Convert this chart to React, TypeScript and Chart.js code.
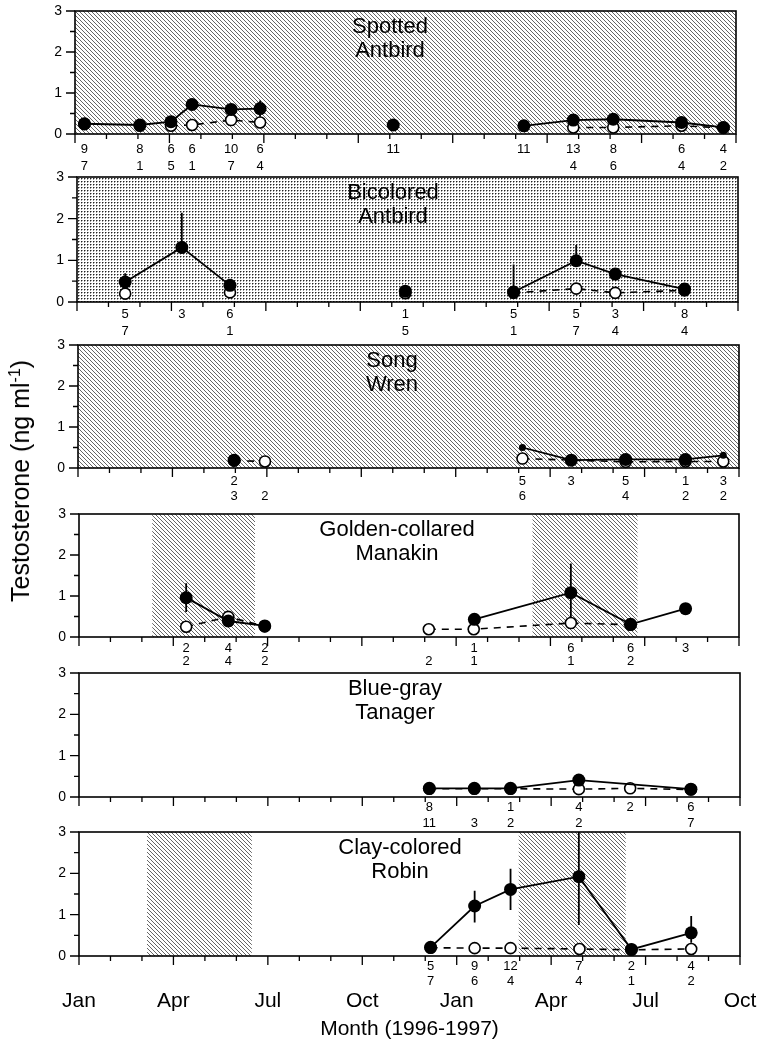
import React, { useEffect, useRef } from "react";
import { Chart, registerables } from "chart.js";

Chart.register(...registerables);

const FONT = '"Liberation Sans", Arial, Helvetica, sans-serif';
Chart.defaults.font.family = FONT;
Chart.defaults.color = "#000";

// x values: months since 1 Jan 1996 (0 = Jan 1996, 21 = Oct 1997)
const X_MIN = 0;
const X_MAX = 21;
const Y_MAX = 3;
const MONTH_TICK_LABELS = ["Jan", "Apr", "Jul", "Oct", "Jan", "Apr", "Jul", "Oct"];
const X_TITLE = "Month (1996-1997)";

// ---------- Spotted Antbird ----------
const spottedTitle = ["Spotted", "Antbird"];
const spottedFilledMonth = [0.3, 2.06, 3.05, 3.72, 4.96, 5.88, 10.11, 14.26, 15.83, 17.1, 19.27, 20.6];
const spottedFilledT = [0.25, 0.22, 0.3, 0.72, 0.6, 0.62, 0.22, 0.2, 0.34, 0.36, 0.28, 0.16];
const spottedFilledUp = [0, 0, 0, 0.1, 0.05, 0.2, 0, 0, 0.05, 0.05, 0.05, 0];
const spottedFilledDown = [0, 0, 0, 0.1, 0.05, 0.2, 0, 0, 0.05, 0.05, 0.05, 0];
const spottedFilledRun = [0, 0, 0, 0, 0, 0, 1, 2, 2, 2, 2, 2];
const spottedOpenMonth = [0.3, 2.06, 3.05, 3.72, 4.96, 5.88, 15.83, 17.1, 19.27, 20.6];
const spottedOpenT = [0.24, 0.2, 0.2, 0.22, 0.34, 0.28, 0.16, 0.16, 0.2, 0.15];
const spottedOpenRun = [0, 1, 2, 2, 2, 2, 3, 3, 3, 3];
const spottedNMonth = [0.3, 2.06, 3.05, 3.72, 4.96, 5.88, 10.11, 14.26, 15.83, 17.1, 19.27, 20.6];
const spottedNTop = ["9", "8", "6", "6", "10", "6", "11", "11", "13", "8", "6", "4"];
const spottedNBottom = ["7", "1", "5", "1", "7", "4", "", "", "4", "6", "4", "2"];
const spottedShadeFrom = [0];
const spottedShadeTo = [21];

// ---------- Bicolored Antbird ----------
const bicoloredTitle = ["Bicolored", "Antbird"];
const bicoloredFilledMonth = [1.53, 3.33, 4.86, 10.43, 13.87, 15.86, 17.1, 19.3];
const bicoloredFilledT = [0.48, 1.31, 0.4, 0.26, 0.24, 0.99, 0.67, 0.31];
const bicoloredFilledUp = [0.21, 0.83, 0, 0, 0.66, 0.38, 0, 0];
const bicoloredFilledDown = [0, 0, 0, 0, 0, 0, 0, 0];
const bicoloredFilledRun = [0, 0, 0, 1, 2, 2, 2, 2];
const bicoloredOpenMonth = [1.53, 4.86, 10.43, 13.87, 15.86, 17.1, 19.3];
const bicoloredOpenT = [0.2, 0.23, 0.21, 0.22, 0.32, 0.22, 0.28];
const bicoloredOpenRun = [0, 1, 2, 3, 3, 3, 3];
const bicoloredNMonth = [1.53, 3.33, 4.86, 10.43, 13.87, 15.86, 17.1, 19.3];
const bicoloredNTop = ["5", "3", "6", "1", "5", "5", "3", "8"];
const bicoloredNBottom = ["7", "", "1", "5", "1", "7", "4", "4"];
const bicoloredShadeFrom = [0];
const bicoloredShadeTo = [21];

// ---------- Song Wren ----------
const wrenTitle = ["Song", "Wren"];
const wrenFilledMonth = [4.96, 14.12, 15.67, 17.4, 19.3, 20.5];
const wrenFilledT = [0.19, 0.5, 0.19, 0.21, 0.21, 0.31];
const wrenFilledUp = [0, 0, 0, 0, 0, 0];
const wrenFilledDown = [0, 0, 0, 0, 0, 0];
const wrenFilledRun = [0, 1, 1, 1, 1, 1];
const wrenOpenMonth = [4.96, 5.94, 14.12, 17.4, 19.3, 20.5];
const wrenOpenT = [0.18, 0.16, 0.23, 0.15, 0.16, 0.16];
const wrenOpenRun = [0, 0, 1, 1, 1, 1];
const wrenNMonth = [4.96, 5.94, 14.12, 15.67, 17.4, 19.3, 20.5];
const wrenNTop = ["2", "", "5", "3", "5", "1", "3"];
const wrenNBottom = ["3", "2", "6", "", "4", "2", "2"];
const wrenShadeFrom = [0];
const wrenShadeTo = [21];

// ---------- Golden-collared Manakin ----------
const manakinTitle = ["Golden-collared", "Manakin"];
const manakinFilledMonth = [3.41, 4.75, 5.91, 12.58, 15.65, 17.55, 19.3];
const manakinFilledT = [0.96, 0.39, 0.27, 0.43, 1.08, 0.31, 0.69];
const manakinFilledUp = [0.35, 0, 0, 0, 0.71, 0.12, 0.12];
const manakinFilledDown = [0.35, 0, 0, 0, 0.71, 0.12, 0.12];
const manakinFilledRun = [0, 0, 0, 1, 1, 1, 1];
const manakinOpenMonth = [3.41, 4.75, 5.91, 11.13, 12.56, 15.65, 17.55];
const manakinOpenT = [0.25, 0.49, 0.26, 0.19, 0.19, 0.34, 0.3];
const manakinOpenRun = [0, 0, 0, 1, 1, 1, 1];
const manakinNMonth = [3.41, 4.75, 5.91, 11.13, 12.57, 15.65, 17.55, 19.3];
const manakinNTop = ["2", "4", "2", "", "1", "6", "6", "3"];
const manakinNBottom = ["2", "4", "2", "2", "1", "1", "2", ""];
const manakinShadeFrom = [2.33, 14.43];
const manakinShadeTo = [5.6, 17.77];

// ---------- Blue-gray Tanager ----------
const tanagerTitle = ["Blue-gray", "Tanager"];
const tanagerFilledMonth = [11.13, 12.56, 13.71, 15.88, 19.44];
const tanagerFilledT = [0.21, 0.21, 0.21, 0.41, 0.19];
const tanagerFilledUp = [0, 0, 0, 0, 0];
const tanagerFilledDown = [0, 0, 0, 0, 0];
const tanagerFilledRun = [0, 0, 0, 0, 0];
const tanagerOpenMonth = [11.13, 12.56, 13.71, 15.88, 17.51, 19.44];
const tanagerOpenT = [0.2, 0.2, 0.2, 0.19, 0.21, 0.18];
const tanagerOpenRun = [0, 0, 0, 0, 0, 0];
const tanagerNMonth = [11.13, 12.56, 13.71, 15.88, 17.51, 19.44];
const tanagerNTop = ["8", "", "1", "4", "2", "6"];
const tanagerNBottom = ["11", "3", "2", "2", "", "7"];
const tanagerShadeFrom: number[] = [];
const tanagerShadeTo: number[] = [];

// ---------- Clay-colored Robin ----------
const robinTitle = ["Clay-colored", "Robin"];
const robinFilledMonth = [11.17, 12.57, 13.71, 15.88, 17.55, 19.45];
const robinFilledT = [0.21, 1.21, 1.61, 1.92, 0.16, 0.56];
const robinFilledUp = [0, 0.37, 0.5, 1.17, 0, 0.41];
const robinFilledDown = [0, 0.4, 0.5, 1.17, 0, 0.24];
const robinFilledRun = [0, 0, 0, 0, 0, 0];
const robinOpenMonth = [11.17, 12.57, 13.71, 15.9, 17.55, 19.45];
const robinOpenT = [0.2, 0.19, 0.19, 0.17, 0.15, 0.17];
const robinOpenRun = [0, 0, 0, 0, 0, 0];
const robinNMonth = [11.17, 12.57, 13.71, 15.88, 17.55, 19.45];
const robinNTop = ["5", "9", "12", "7", "2", "4"];
const robinNBottom = ["7", "6", "4", "4", "1", "2"];
const robinShadeFrom = [2.16, 13.97];
const robinShadeTo = [5.49, 17.37];

const PANELS = [
  { title: spottedTitle, fm: spottedFilledMonth, ft: spottedFilledT, fu: spottedFilledUp, fd: spottedFilledDown, fr: spottedFilledRun, om: spottedOpenMonth, ot: spottedOpenT, or: spottedOpenRun, nm: spottedNMonth, n1: spottedNTop, n2: spottedNBottom, sf: spottedShadeFrom, st: spottedShadeTo },
  { title: bicoloredTitle, fm: bicoloredFilledMonth, ft: bicoloredFilledT, fu: bicoloredFilledUp, fd: bicoloredFilledDown, fr: bicoloredFilledRun, om: bicoloredOpenMonth, ot: bicoloredOpenT, or: bicoloredOpenRun, nm: bicoloredNMonth, n1: bicoloredNTop, n2: bicoloredNBottom, sf: bicoloredShadeFrom, st: bicoloredShadeTo },
  { title: wrenTitle, fm: wrenFilledMonth, ft: wrenFilledT, fu: wrenFilledUp, fd: wrenFilledDown, fr: wrenFilledRun, om: wrenOpenMonth, ot: wrenOpenT, or: wrenOpenRun, nm: wrenNMonth, n1: wrenNTop, n2: wrenNBottom, sf: wrenShadeFrom, st: wrenShadeTo },
  { title: manakinTitle, fm: manakinFilledMonth, ft: manakinFilledT, fu: manakinFilledUp, fd: manakinFilledDown, fr: manakinFilledRun, om: manakinOpenMonth, ot: manakinOpenT, or: manakinOpenRun, nm: manakinNMonth, n1: manakinNTop, n2: manakinNBottom, sf: manakinShadeFrom, st: manakinShadeTo },
  { title: tanagerTitle, fm: tanagerFilledMonth, ft: tanagerFilledT, fu: tanagerFilledUp, fd: tanagerFilledDown, fr: tanagerFilledRun, om: tanagerOpenMonth, ot: tanagerOpenT, or: tanagerOpenRun, nm: tanagerNMonth, n1: tanagerNTop, n2: tanagerNBottom, sf: tanagerShadeFrom, st: tanagerShadeTo },
  { title: robinTitle, fm: robinFilledMonth, ft: robinFilledT, fu: robinFilledUp, fd: robinFilledDown, fr: robinFilledRun, om: robinOpenMonth, ot: robinOpenT, or: robinOpenRun, nm: robinNMonth, n1: robinNTop, n2: robinNBottom, sf: robinShadeFrom, st: robinShadeTo },
];

// ---------- layout / style (not data) ----------
const PAGE_W = 760;
const PAGE_H = 1046;
const PAD_TOP = 11;
const BELOW = 42;
const PANEL_TOP = [11, 177, 345, 514, 673, 832];
const PANEL_BOTTOM = [134, 302, 468, 637, 797, 956];
const PANEL_LEFT = [75, 77, 78, 79, 79, 79];
const PANEL_RIGHT = [736, 738, 739, 739, 740, 740];
const PANEL_PATTERN = ["diag", "dots", "diag", "diag", "diag", "diag"];
const TITLE_X = [390, 393, 392, 397, 395, 400];
const N_OFFSETS = [[15.5, 32], [12, 29.5], [13.5, 28], [11, 24.5], [10, 26], [10.7, 25.7]];
const SMALL_POINTS = [[], [], [1, 5], [], [], []];

function makePattern(ctx: CanvasRenderingContext2D, kind: string) {
  const t = document.createElement("canvas");
  const c = t.getContext("2d") as CanvasRenderingContext2D;
  if (kind === "dots") {
    t.width = 3;
    t.height = 3;
    c.fillStyle = "#222";
    c.fillRect(0, 0, 1, 1);
    c.fillStyle = "#999";
    c.fillRect(1, 0, 1, 1);
    c.fillRect(0, 1, 1, 1);
  } else {
    t.width = 4;
    t.height = 4;
    c.fillStyle = "#666";
    for (let i = 0; i < 4; i++) c.fillRect(i, i, 1, 1);
  }
  return ctx.createPattern(t, "repeat") as CanvasPattern;
}

function PanelChart({ idx }: { idx: number }) {
  const ref = useRef<HTMLCanvasElement | null>(null);
  const last = idx === PANELS.length - 1;
  const top = PANEL_TOP[idx] - PAD_TOP;
  const areaH = PANEL_BOTTOM[idx] - PANEL_TOP[idx];
  const h = last ? PAGE_H - top : areaH + PAD_TOP + BELOW;

  useEffect(() => {
    const p = PANELS[idx];
    const small = SMALL_POINTS[idx];
    const xAxisH = h - PAD_TOP - areaH;
    let pattern: CanvasPattern | null = null;

    const decor = {
      id: "decor",
      beforeDatasetsDraw(chart: any) {
        const { ctx, chartArea: a } = chart;
        const xs = chart.scales.x;
        const ys = chart.scales.y;
        ctx.save();
        if (p.sf.length) {
          if (!pattern) pattern = makePattern(ctx, PANEL_PATTERN[idx]);
          ctx.fillStyle = pattern;
          for (let i = 0; i < p.sf.length; i++) {
            const x0 = xs.getPixelForValue(p.sf[i]);
            const x1 = xs.getPixelForValue(p.st[i]);
            ctx.fillRect(x0, a.top, x1 - x0, a.bottom - a.top);
          }
        }
        ctx.strokeStyle = "#000";
        ctx.lineWidth = 1.6;
        ctx.strokeRect(a.left, a.top, a.right - a.left, a.bottom - a.top);
        ctx.lineWidth = 1.3;
        ctx.beginPath();
        xs.ticks.forEach((t: any) => {
          const px = xs.getPixelForValue(t.value);
          const len = Math.round(t.value) % 3 === 0 ? 9 : 5;
          ctx.moveTo(px, a.bottom);
          ctx.lineTo(px, a.bottom + len);
        });
        ys.ticks.forEach((t: any) => {
          const py = ys.getPixelForValue(t.value);
          const len = Number.isInteger(t.value) ? 9 : 5;
          ctx.moveTo(a.left - len, py);
          ctx.lineTo(a.left, py);
        });
        ctx.stroke();
        // error bars
        ctx.save();
        ctx.beginPath();
        ctx.rect(a.left, a.top, a.right - a.left, a.bottom - a.top);
        ctx.clip();
        ctx.lineWidth = 1.8;
        ctx.beginPath();
        p.fm.forEach((m: number, i: number) => {
          const up = p.fu[i];
          const dn = p.fd[i];
          if (!up && !dn) return;
          const px = xs.getPixelForValue(m);
          ctx.moveTo(px, ys.getPixelForValue(p.ft[i] + up));
          ctx.lineTo(px, ys.getPixelForValue(p.ft[i] - dn));
        });
        ctx.stroke();
        ctx.restore();
        ctx.restore();
      },
      afterDatasetsDraw(chart: any) {
        const { ctx, chartArea: a } = chart;
        const xs = chart.scales.x;
        ctx.save();
        ctx.fillStyle = "#000";
        ctx.textAlign = "center";
        ctx.textBaseline = "middle";
        ctx.font = `13px ${FONT}`;
        const [o1, o2] = N_OFFSETS[idx];
        p.nm.forEach((m: number, i: number) => {
          const px = xs.getPixelForValue(m);
          if (p.n1[i]) ctx.fillText(p.n1[i], px, a.bottom + o1);
          if (p.n2[i]) ctx.fillText(p.n2[i], px, a.bottom + o2);
        });
        ctx.font = `22px ${FONT}`;
        ctx.fillText(p.title[0], TITLE_X[idx], a.top + 16);
        ctx.fillText(p.title[1], TITLE_X[idx], a.top + 40);
        ctx.restore();
      },
    };

    const filledData = p.fm.map((m: number, i: number) => ({ x: m, y: p.ft[i] }));
    const openData = p.om.map((m: number, i: number) => ({ x: m, y: p.ot[i] }));

    const chart = new Chart(ref.current as HTMLCanvasElement, {
      type: "line",
      data: {
        datasets: [
          {
            label: "filled",
            data: filledData,
            borderColor: "#000",
            borderWidth: 1.8,
            tension: 0,
            clip: 12,
            pointRadius: (c: any) => (small.includes(c.dataIndex) ? 3.5 : 6.5),
            pointBackgroundColor: "#000",
            pointBorderColor: "#000",
            pointBorderWidth: 0,
            segment: {
              borderColor: (c: any) => (p.fr[c.p0DataIndex] === p.fr[c.p1DataIndex] ? "#000" : "rgba(0,0,0,0)"),
            },
          },
          {
            label: "open",
            data: openData,
            borderColor: "#000",
            borderWidth: 1.6,
            borderDash: [7, 6],
            tension: 0,
            clip: 12,
            pointRadius: 5.5,
            pointBackgroundColor: "#fff",
            pointBorderColor: "#000",
            pointBorderWidth: 1.6,
            segment: {
              borderColor: (c: any) => (p.or[c.p0DataIndex] === p.or[c.p1DataIndex] ? "#000" : "rgba(0,0,0,0)"),
            },
          },
        ] as any,
      },
      options: {
        responsive: false,
        maintainAspectRatio: false,
        animation: false,
        devicePixelRatio: 1,
        events: [],
        layout: { padding: { top: PAD_TOP, left: 0, right: PAGE_W - PANEL_RIGHT[idx], bottom: 0 } },
        plugins: { legend: { display: false }, tooltip: { enabled: false }, title: { display: false } },
        scales: {
          x: {
            type: "linear",
            min: X_MIN,
            max: X_MAX,
            grid: { display: false, drawTicks: false },
            border: { display: false },
            ticks: last
              ? {
                  stepSize: 1,
                  maxTicksLimit: 100,
                  autoSkip: false,
                  maxRotation: 0,
                  minRotation: 0,
                  padding: 33,
                  color: "#000",
                  font: { size: 21, family: FONT },
                  callback: (v: any) => (Math.round(v) % 3 === 0 ? MONTH_TICK_LABELS[Math.round(v) / 3] : ""),
                }
              : { stepSize: 1, maxTicksLimit: 100, display: false },
            title: last
              ? { display: true, text: X_TITLE, color: "#000", font: { size: 21, family: FONT }, padding: { top: 0, bottom: 4 } }
              : { display: false },
            afterFit: (s: any) => {
              s.height = xAxisH;
              s.paddingLeft = 0;
              s.paddingRight = 0;
            },
          },
          y: {
            type: "linear",
            min: 0,
            max: Y_MAX,
            grid: { display: false, drawTicks: false },
            border: { display: false },
            ticks: {
              stepSize: 0.5,
              padding: 13,
              color: "#000",
              font: { size: 14, family: FONT },
              callback: (v: any) => (Number.isInteger(v) ? String(v) : ""),
            },
            afterFit: (s: any) => {
              s.width = PANEL_LEFT[idx];
              s.paddingTop = 0;
              s.paddingBottom = 0;
            },
          },
        },
      } as any,
      plugins: [decor as any],
    });
    return () => chart.destroy();
  }, []);

  return (
    <canvas
      ref={ref}
      width={PAGE_W}
      height={h}
      style={{ position: "absolute", left: 0, top, width: PAGE_W, height: h, display: "block" }}
    />
  );
}

export default function App() {
  return (
    <div style={{ position: "absolute", left: 0, top: 0, width: PAGE_W, height: PAGE_H, background: "#fff", overflow: "hidden", fontFamily: FONT }}>
      {PANELS.map((_, i) => (
        <PanelChart key={i} idx={i} />
      ))}
      <div
        style={{
          position: "absolute",
          left: 20,
          top: 481,
          transform: "translate(-50%, -50%) rotate(-90deg)",
          whiteSpace: "nowrap",
          fontSize: 25,
          lineHeight: "30px",
          height: 30,
          color: "#000",
          fontFamily: FONT,
        }}
      >
        Testosterone (ng ml<span style={{ fontSize: 16, position: "relative", top: -9 }}>-1</span>)
      </div>
    </div>
  );
}
